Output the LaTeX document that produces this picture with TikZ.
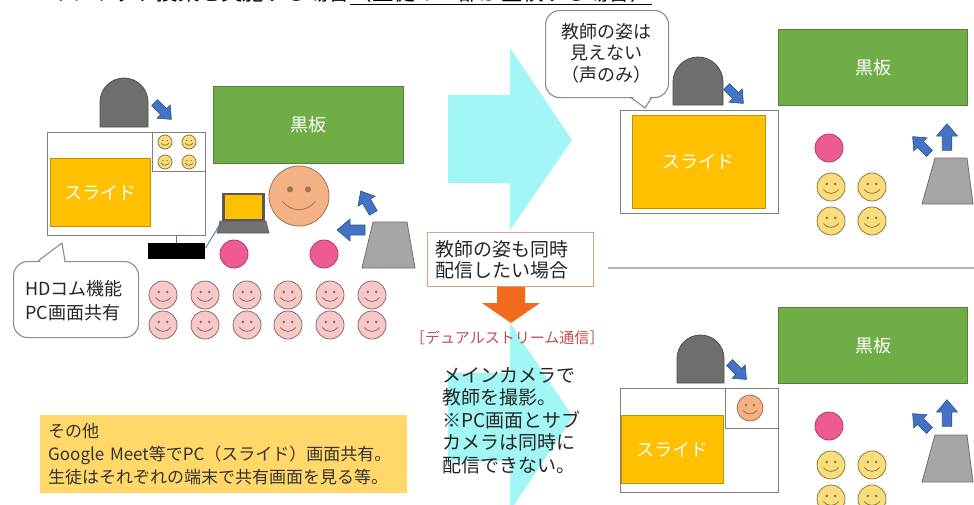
\documentclass[tikz,border=0pt]{standalone}
\usepackage{fontspec}
\setmainfont{Noto Sans CJK JP}
\usetikzlibrary{calc}

\definecolor{boardG}{HTML}{70AD47}
\definecolor{boardE}{HTML}{548235}
\definecolor{slideY}{HTML}{FFC000}
\definecolor{slideE}{HTML}{BF9000}
\definecolor{headG}{HTML}{6E6E6E}
\definecolor{headE}{HTML}{4D4D4D}
\definecolor{blueA}{HTML}{4472C4}
\definecolor{blueE}{HTML}{2F528F}
\definecolor{pinkDot}{HTML}{EE5A92}
\definecolor{pinkE}{HTML}{B03A66}
\definecolor{stuF}{HTML}{F7C8C8}
\definecolor{stuE}{HTML}{8A6A6A}
\definecolor{smileY}{HTML}{F9DC7C}
\definecolor{smileE}{HTML}{8C7A40}
\definecolor{teachF}{HTML}{F4B183}
\definecolor{teachE}{HTML}{9C7456}
\definecolor{camG}{HTML}{A6A6A6}
\definecolor{camE}{HTML}{6F6F6F}
\definecolor{cyanA}{HTML}{A2F6F6}
\definecolor{orangeA}{HTML}{F26B1D}
\definecolor{tanE}{HTML}{D9A27C}
\definecolor{redT}{HTML}{C0504D}
\definecolor{noteY}{HTML}{FFD869}
\definecolor{frameG}{HTML}{7F7F7F}
\definecolor{bubbleE}{HTML}{8C8C8C}
\definecolor{lapE}{HTML}{595959}
\definecolor{divG}{HTML}{B4B4B4}

\newcommand\fsz[2]{\fontsize{#1pt}{#2pt}\selectfont}

% smiling face: centre x, centre y, radius, fill, edge
\newcommand\smileface[5]{%
  \begin{scope}[shift={(#1,#2)}]
    \filldraw[fill=#4,draw=#5,line width=0.8pt] (0,0) circle[radius=#3];
    \fill[#5] ({-0.3*#3},{-0.22*#3}) circle[radius={0.1*#3}]
              ({0.3*#3},{-0.22*#3}) circle[radius={0.1*#3}];
    \draw[#5,line width=0.8pt] ({-0.55*#3},{0.18*#3})
      .. controls ({-0.25*#3},{0.55*#3}) and ({0.25*#3},{0.55*#3}) .. ({0.55*#3},{0.18*#3});
  \end{scope}}

% teacher seen from behind: left, top, right, bottom
\newcommand\headshape[4]{%
  \filldraw[fill=headG,draw=headE,line width=0.8pt]
    (#1,#4) -- (#1,{#2+(#3-#1)/2})
    arc[start angle=180,end angle=360,radius={(#3-#1)/2}] -- (#3,#4) -- cycle;}

\tikzset{
  blockarrow/.pic={
    \filldraw[fill=blueA,draw=blueE,line width=0.6pt,line join=miter]
      (-14,-5) -- (1,-5) -- (1,-11) -- (14,0) -- (1,11) -- (1,5) -- (-14,5) -- cycle;}
}

\begin{document}
\begin{tikzpicture}[x=1pt,y=-1pt,
  every node/.style={inner sep=0pt},
  boardbox/.style={draw=boardE,fill=boardG,line width=1pt,anchor=north west,
    text=white,font=\fsz{18}{20}},
  slidebox/.style={draw=slideE,fill=slideY,line width=0.8pt,anchor=north west,
    text=white,font=\fsz{18}{20}},
  screenbox/.style={draw=frameG,fill=white,line width=1.2pt,anchor=north west},
  subwin/.style={draw=frameG,line width=1pt,anchor=north west},
  pinkdot/.style={circle,draw=pinkE,fill=pinkDot,line width=0.8pt,minimum size=28pt},
  bubble/.style={draw=bubbleE,fill=white,line width=1.1pt,rounded corners=14pt,anchor=north west},
  bubbleedge/.style={draw=bubbleE,line width=1.1pt,line join=round},
  camera/.style={fill=camG,draw=camE,line width=0.8pt},
  wire/.style={draw=blueA,line width=0.9pt},
]
\useasboundingbox (0,0) rectangle (974,504);
\clip (0,0) rectangle (974,504);

% ---------- heading (only its lower edge lies inside the page) ----------
\node[anchor=base west,font=\fsz{21.5}{22}] (title) at (28,0.5) {ハイブリッド授業を実施する場合};
\node[anchor=base west,font=\fsz{21.5}{22}] (titlenote) at (title.base east) {（生徒の一部が登校する場合）};
\draw[line width=1.4pt] ([yshift=-4pt]titlenote.base west) -- ([yshift=-4pt]titlenote.base east);

% ---------- left: classroom ----------
\node[boardbox,minimum width=190pt,minimum height=77pt] (boardL) at (213,86) {黒板};
\node[screenbox,minimum width=158pt,minimum height=103pt] (scrL) at (47,132) {};
\node[subwin,minimum width=53pt,minimum height=39pt] (subL) at (152,132) {};
\node[slidebox,minimum width=100pt,minimum height=68pt] (slideL) at (50,158) {スライド};
\foreach \fx/\fy in {165/142,189/142,165/162,189/162}{
  \smileface{\fx}{\fy}{7}{smileY}{smileE}}
\headshape{100}{78}{148}{127}
\pic[rotate=-45,scale=0.85] at (163,111) {blockarrow};

\node[fill=black,anchor=north west,minimum width=57pt,minimum height=16pt] (hub) at (148,243) {};
\draw[wire] (hub.north) -- (hub.north |- scrL.south);

\node[draw=lapE,fill=slideY,line width=2.5pt,minimum width=40pt,minimum height=26pt] (lapscreen) at (243.5,207) {};
\filldraw[fill=lapE!85,draw=lapE,line width=0.6pt] (220,221) -- (266,221) -- (269,233) -- (217,233) -- cycle;
\coordinate (lapfoot) at (219,226);
\draw[wire] ([yshift=3pt]hub.east) -- (lapfoot);

\smileface{299}{196}{30}{teachF}{teachE}
\node[pinkdot] (pinkL1) at (234,254) {};
\node[pinkdot] (pinkL2) at (324,254) {};

\filldraw[camera] (373,222) -- (407,222) -- (415,268) -- (362,268) -- cycle;
\pic[rotate=180] at (351,230) {blockarrow};
\pic[rotate=120,scale=0.9] at (367,202) {blockarrow};

\foreach \sx in {163,205,247,288,330,372}{
  \foreach \sy in {295,325}{
    \smileface{\sx}{\sy}{14}{stuF}{stuE}}}

% speech bubble about the video link
\node[bubble,minimum width=125pt,minimum height=76pt] (bubL) at (13,261) {};
\fill[white] (39,263) -- (62,243) -- (64.5,263) -- cycle;
\draw[bubbleedge] (38,261) -- (62,243) -- (65,261);
\node[anchor=north west,align=left,font=\fsz{18}{24},text=black!85] (hdtext) at (25,280) {HDコム機能\\PC画面共有};

% other methods
\node[fill=noteY,anchor=north west,minimum width=367pt,minimum height=78pt,
      text width=351pt,inner xsep=8pt,align=left,font=\fsz{17}{23},text=black!80] (note) at (40,415)
  {その他\\Google Meet等でPC（スライド）画面共有。\\生徒はそれぞれの端末で共有画面を見る等。};

% ---------- centre ----------
\fill[cyanA] (448,95) -- (510,95) -- (510,48) -- (572,140) -- (510,230) -- (510,183) -- (448,183) -- cycle;
\fill[cyanA] (448,373) -- (510,373) -- (510,323) -- (573,417) -- (510,511) -- (510,461) -- (448,461) -- cycle;

\node[draw=tanE,fill=white,line width=1pt,anchor=north west,minimum height=54pt,
      text width=150pt,inner xsep=8pt,align=left,font=\fsz{19}{21},text=black!85] (askbox) at (427,232)
  {教師の姿も同時\\配信したい場合};
\fill[orangeA] (497,287) -- (525,287) -- (525,303) -- (540,303) -- (511,323) -- (482,303) -- (497,303) -- cycle;

\node[anchor=west,text=redT,font=\fsz{15}{17}] (dualtitle) at (410,338) {［デュアルストリーム通信］};
\node[anchor=north west,align=left,font=\fsz{19}{22.5},text=black!85] (dualnote) at (442,367)
  {メインカメラで\\教師を撮影。\\※PC画面とサブ\\カメラは同時に\\配信できない。};

\draw[divG,line width=1.5pt] (608,268) -- (974,268);

% ---------- right top: slide only ----------
\node[bubble,minimum width=123pt,minimum height=87pt] (bubR) at (545,10) {};
\fill[white] (631,95) -- (645,108) -- (651,95) -- cycle;
\draw[bubbleedge] (630,97) -- (645,108) -- (652,97);
\node[align=center,font=\fsz{18}{21.5},text=black!85] (voicetext) at (606,53) {教師の姿は\\見えない\\（声のみ）};

\headshape{673}{57}{723}{105}
\pic[rotate=-45,scale=0.85] at (735,95) {blockarrow};
\node[screenbox,minimum width=158pt,minimum height=103pt] (scrR) at (620,110) {};
\node[slidebox,minimum width=133pt,minimum height=93pt] (slideR) at (632,115) {スライド};
\node[boardbox,minimum width=189pt,minimum height=76pt] (boardR) at (778,29) {黒板};
\node[pinkdot] (pinkR) at (829,148) {};
\foreach \fx/\fy in {831/187,872/187,831/221,872/221}{
  \smileface{\fx}{\fy}{14}{smileY}{smileE}}
\filldraw[camera] (935,158) -- (967,158) -- (973,204) -- (922,204) -- cycle;
\pic[rotate=135,scale=0.85] at (921,145) {blockarrow};
\pic[rotate=90,scale=0.95] at (947,137) {blockarrow};

% ---------- right bottom: dual stream ----------
\headshape{677}{335}{724}{383}
\pic[rotate=-45,scale=0.85] at (738,371) {blockarrow};
\node[screenbox,minimum width=158pt,minimum height=104pt] (scrD) at (620,388) {};
\node[subwin,minimum width=53pt,minimum height=40pt] (subD) at (725,388) {};
\smileface{750}{408}{13}{teachF}{teachE}
\node[slidebox,minimum width=102pt,minimum height=68pt] (slideD) at (621,415) {スライド};
\node[boardbox,minimum width=189pt,minimum height=76pt] (boardD) at (778,307) {黒板};
\node[pinkdot] (pinkD) at (829,426) {};
\foreach \fx/\fy in {831/465,872/465,831/499,872/499}{
  \smileface{\fx}{\fy}{14}{smileY}{smileE}}
\filldraw[camera] (935,435) -- (967,435) -- (973,482) -- (922,482) -- cycle;
\pic[rotate=135,scale=0.85] at (921,422) {blockarrow};
\pic[rotate=90,scale=0.95] at (947,413) {blockarrow};
\end{tikzpicture}
\end{document}
